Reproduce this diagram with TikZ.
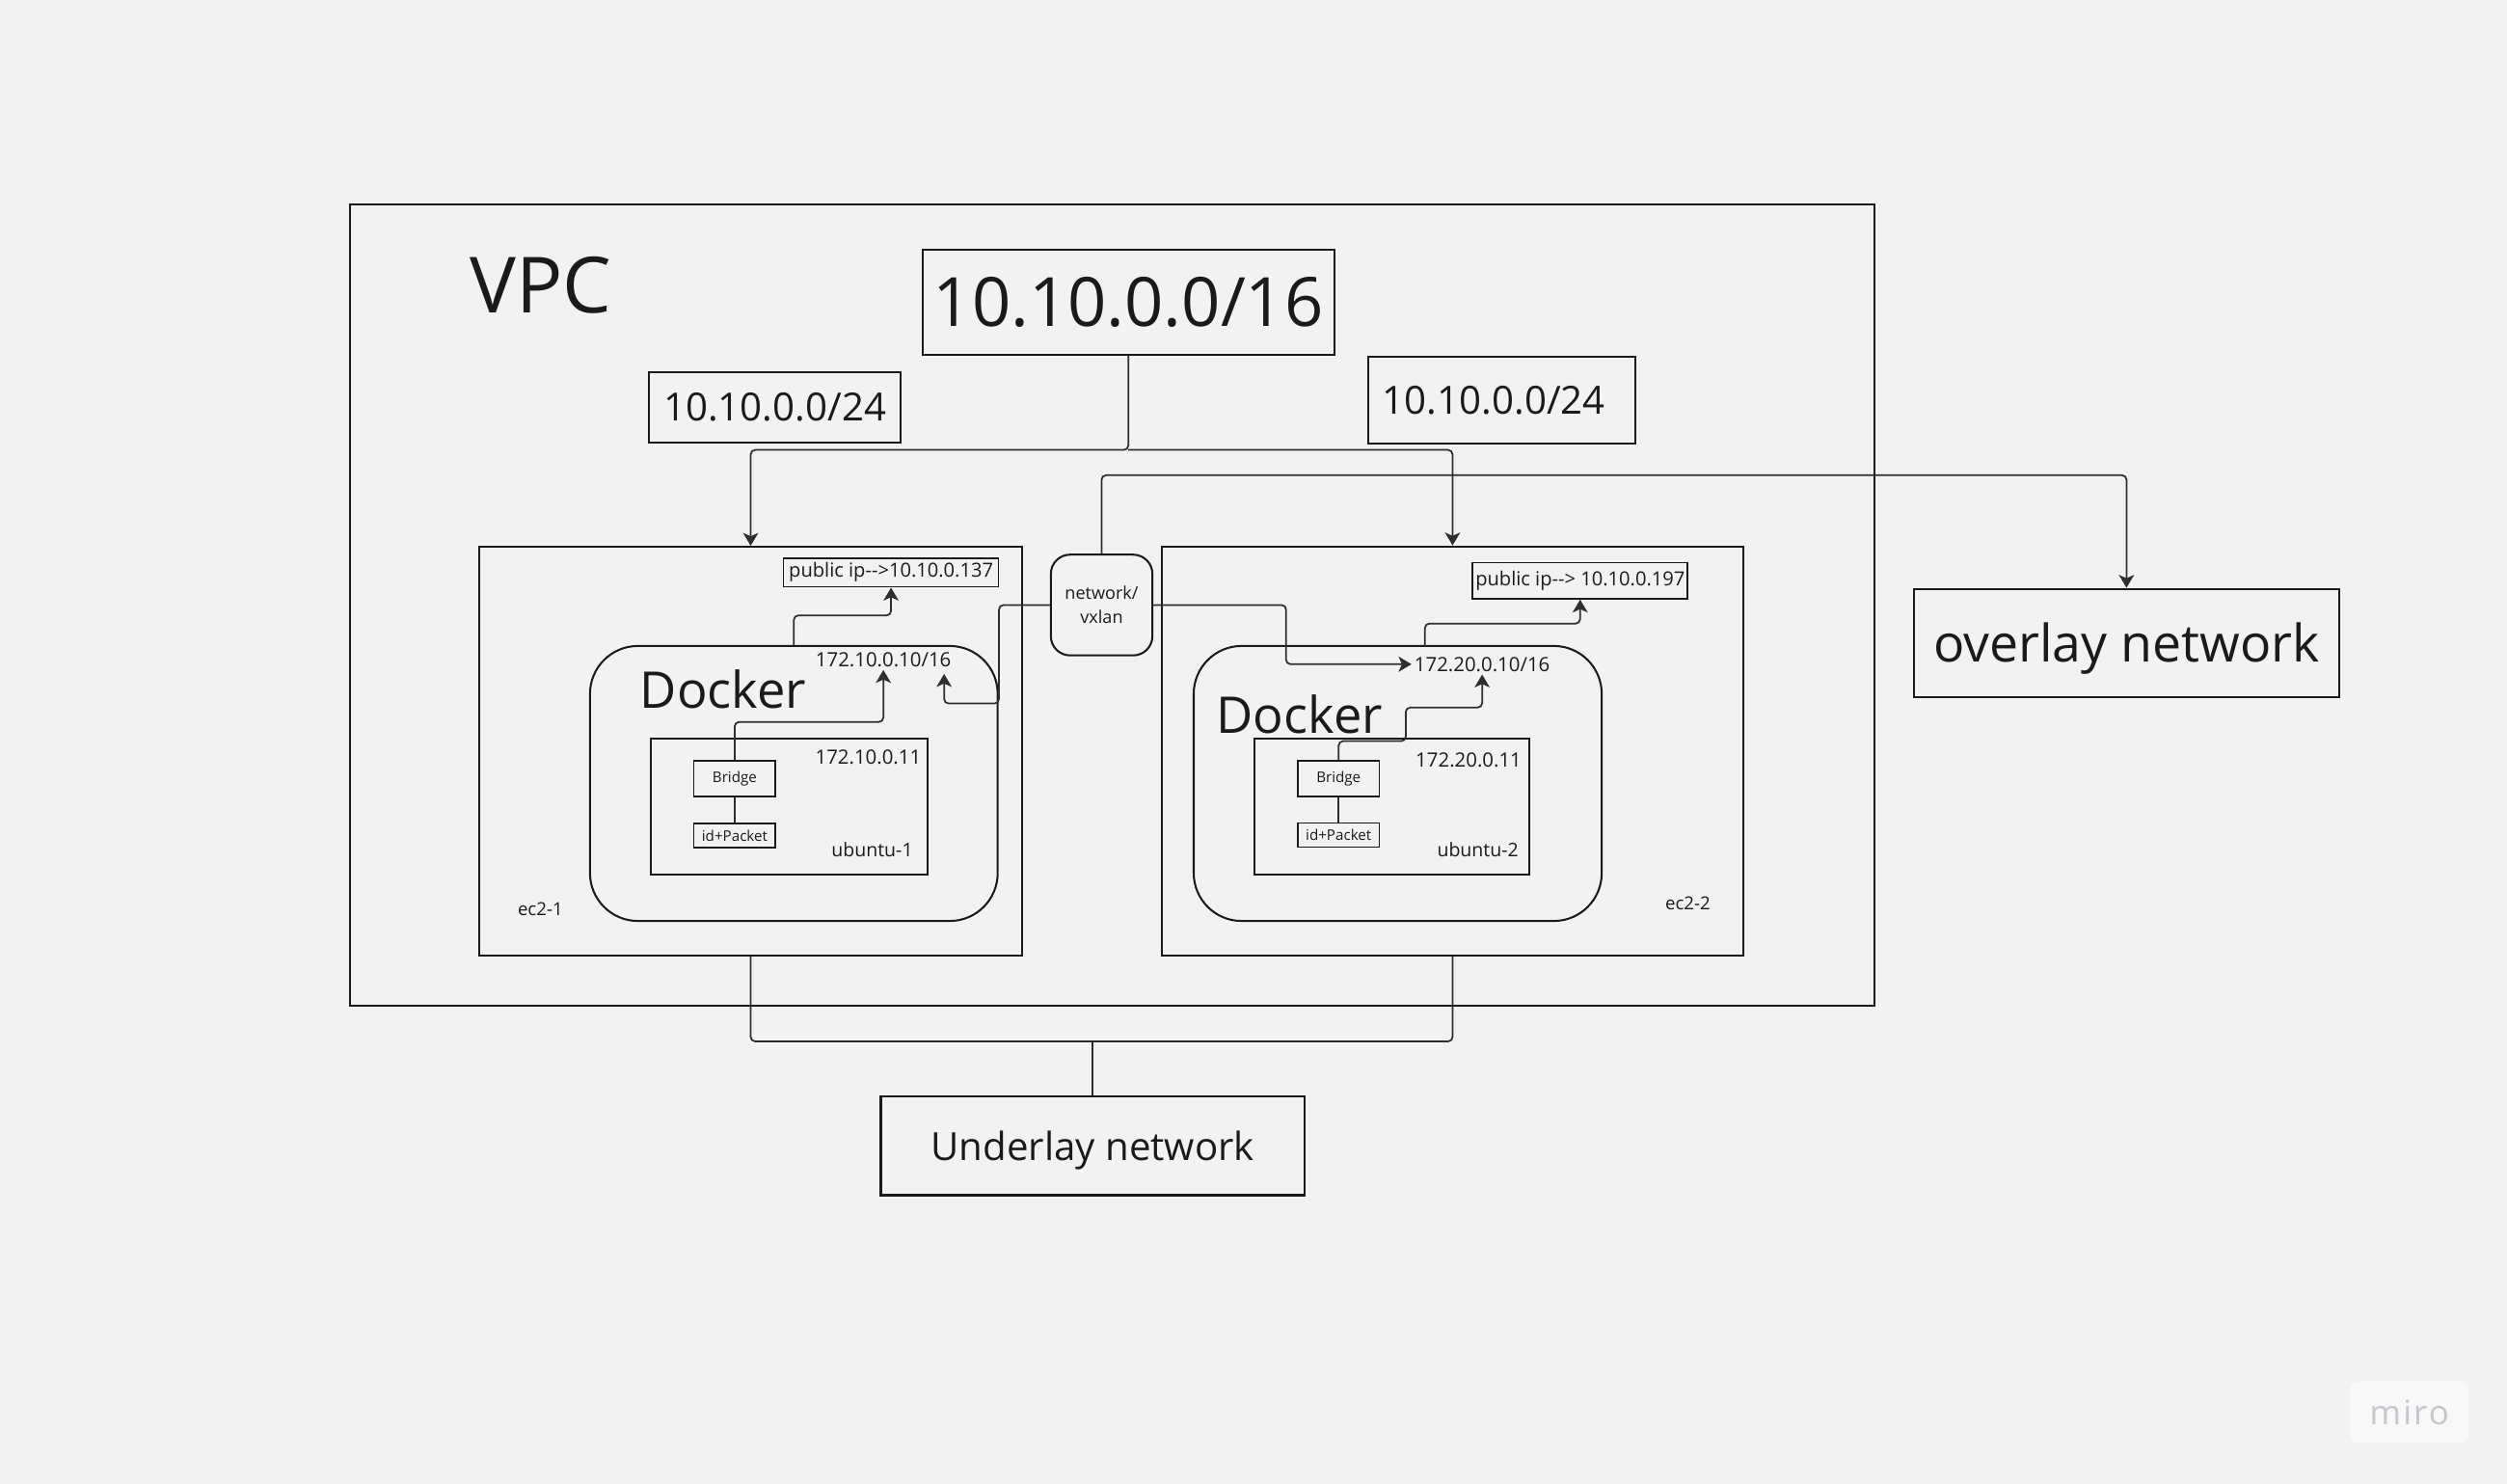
\documentclass[tikz,border=0pt]{standalone}
\usepackage{fontspec}
\setmainfont{Open Sans}
\usetikzlibrary{arrows.meta}
\definecolor{bgc}{HTML}{F2F2F2}
\definecolor{inkc}{HTML}{1A1A1A}
\definecolor{wirec}{HTML}{2E2E2E}
\definecolor{markc}{HTML}{C6C6CE}
\newcommand{\fsz}[2]{\fontsize{#1}{#2}\selectfont}

\begin{document}
\begin{tikzpicture}[x=0.2mm, y=-0.2mm,
    netbox/.style={draw=inkc, line width=0.7pt, inner sep=0pt, text=inkc},
    tinybox/.style={netbox, line width=0.55pt, font=\fsz{5.2pt}{6pt}},
    conn/.style={draw=wirec, line width=0.6pt, rounded corners=1.6pt},
    arr/.style={conn, -{Stealth[length=4.6pt, width=5.4pt, inset=1.2pt]}},
    lbl/.style={inner sep=0.3mm, text=inkc}]
  \fill[bgc] (0,0) rectangle (1568,928);
  \useasboundingbox (0,0) rectangle (1568,928);

  \node[netbox, minimum width=190.7mm, minimum height=100.2mm] (vpc) at (695.7,378.5) {};
  \node[lbl, anchor=base west, font=\fsz{27.6pt}{32pt}] (vpcl) at (292,195.4) {VPC};
  \node[netbox, minimum width=51.5mm, minimum height=13.2mm, font=\fsz{24.2pt}{28pt}] (cidr) at (705.7,189) {10.10.0.0/16};
  \node[netbox, minimum height=8.8mm, text width=27.9mm, inner xsep=1.8mm, align=left, font=\fsz{13.8pt}{16pt}] (subl) at (484.8,254.8) {10.10.0.0/24};
  \node[netbox, minimum height=10.9mm, text width=29.8mm, inner xsep=1.8mm, align=left, font=\fsz{13.8pt}{16pt}] (subr) at (939.25,250.2) {10.10.0.0/24};

  \node[netbox, minimum width=67.8mm, minimum height=51.1mm] (ec2a) at (469.5,469.75) {};
  \node[netbox, minimum width=72.74mm, minimum height=51.14mm] (ec2b) at (908.5,469.6) {};
  \node[netbox, rounded corners=6mm, minimum width=51mm, minimum height=34.4mm] (dkra) at (496.5,490) {};
  \node[netbox, rounded corners=6mm, minimum width=51.04mm, minimum height=34.4mm] (dkrb) at (874.2,490) {};
  \node[netbox, minimum width=34.6mm, minimum height=17mm] (ubta) at (493.5,504.5) {};
  \node[netbox, minimum width=34.44mm, minimum height=16.96mm] (ubtb) at (870.6,504.4) {};
  \node[tinybox, minimum width=10.2mm, minimum height=4.4mm] (brga) at (459.5,487) {Bridge};
  \node[tinybox, minimum width=10.2mm, minimum height=3mm] (pkta) at (459.5,522.5) {id+Packet};
  \node[tinybox, minimum width=10.2mm, minimum height=4.4mm] (brgb) at (837.2,487) {Bridge};
  \node[tinybox, minimum width=10.2mm, minimum height=3mm] (pktb) at (837.2,522.3) {id+Packet};
  \node[netbox, line width=0.6pt, minimum width=26.9mm, minimum height=3.6mm, font=\fsz{6.9pt}{8pt}] (pipa) at (557.3,358) {public ip-{}-{}>10.10.0.137};
  \node[netbox, line width=0.6pt, minimum width=26.9mm, minimum height=4.5mm, font=\fsz{6.9pt}{8pt}] (pipb) at (988.3,363.2) {public ip-{}-{}> 10.10.0.197};
  \node[netbox, rounded corners=2.4mm, minimum width=12.7mm, minimum height=12.6mm, align=center, font=\fsz{6.2pt}{8.5pt}] (vxln) at (689,378.4) {network/\\vxlan};
  \node[netbox, minimum width=53.2mm, minimum height=13.5mm, text depth=0pt, font=\fsz{18.4pt}{21pt}] (ovl) at (1330,402) {overlay network};
  \node[netbox, minimum width=53mm, minimum height=12.4mm, text depth=0pt, font=\fsz{13.8pt}{16pt}] (udl) at (683.4,716.5) {Underlay network};

  \node[lbl, anchor=base, font=\fsz{7pt}{8pt}] (dipa) at (552.5,417) {172.10.0.10/16};
  \node[lbl, anchor=base, font=\fsz{7pt}{8pt}] (dipb) at (927,419.8) {172.20.0.10/16};
  \node[lbl, anchor=base, font=\fsz{7pt}{8pt}] (uipa) at (543,478) {172.10.0.11};
  \node[lbl, anchor=base, font=\fsz{7pt}{8pt}] (uipb) at (918.5,480) {172.20.0.11};
  \node[lbl, anchor=base, font=\fsz{6.7pt}{8pt}] (unma) at (545.5,535.6) {ubuntu-1};
  \node[lbl, anchor=base, font=\fsz{6.7pt}{8pt}] (unmb) at (924.3,535.7) {ubuntu-2};
  \node[lbl, anchor=base west, font=\fsz{6.4pt}{8pt}] (ec2al) at (322,572.5) {ec2-1};
  \node[lbl, anchor=base west, font=\fsz{6.4pt}{8pt}] (ec2bl) at (1039.7,569) {ec2-2};
  \node[lbl, anchor=base west, font=\fsz{18pt}{21pt}] (dkral) at (398.5,442.7) {Docker};
  \node[lbl, anchor=base west, font=\fsz{18pt}{21pt}] (dkrbl) at (759,458.4) {Docker};

  \coordinate (split) at (705.7,281.4);
  \draw[arr] (cidr.south) -- (split) -| (ec2a.north);
  \draw[arr] (split) -| (ec2b.north);
  \draw[arr] (vxln.north) -- ++(0,-49.1) -| (ovl.north);
  \draw[conn] (ec2a.south) -- ++(0,53.2) -| (ec2b.south);
  \draw[conn] (udl.north) -- ++(0,-32.8);
  \draw[arr] (dkra.north) -- ++(0,-18.5) -| (pipa.south);
  \coordinate (dkrbout) at (891.2,404);
  \draw[arr] (dkrbout) -- ++(0,-14) -| (pipb.south);
  \draw[arr] (brga.north) -- ++(0,-24) -| (dipa.south);
  \draw[arr] (brgb.north) -- ++(0,-12) -- ++(42,0) -- ++(0,-21) -| (dipb.south);
  \coordinate (hooka) at (590.5,421.5);
  \draw[arr] (vxln.west) -- ++(-31.8,0) -- ++(0,61.6) -| (hooka);
  \draw[arr] (vxln.east) -- ++(83,0) |- (dipb.west);
  \draw[conn] (brga.south) -- (pkta.north);
  \draw[conn] (brgb.south) -- (pktb.north);

  \node[fill=white!45!bgc, rounded corners=1mm, minimum width=14.8mm, minimum height=7.7mm, text=markc, font=\fsz{12pt}{14pt}] (wmk) at (1507,883.3) {\addfontfeatures{LetterSpace=6}miro};
\end{tikzpicture}
\end{document}
